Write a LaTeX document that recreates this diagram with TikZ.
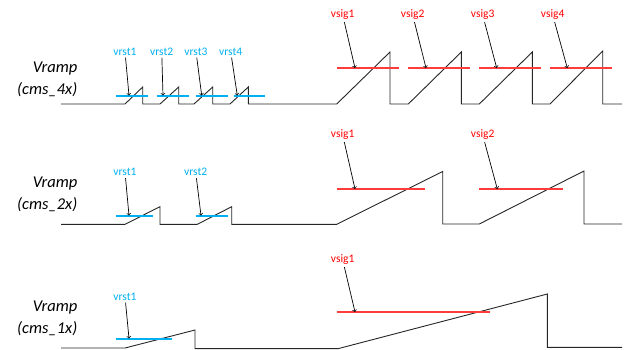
\documentclass[tikz,border=0pt]{standalone}
\usepackage{fontspec}
\setmainfont{Carlito}
\usetikzlibrary{positioning, arrows}
\definecolor{rstblue}{RGB}{0,176,240}
\definecolor{sigred}{RGB}{255,0,0}
\definecolor{siglight}{RGB}{255,60,60}
\tikzset{
  >=to,
  wave/.style={color=black!85, line width=0.9pt, line join=miter},
  rstline/.style={draw=rstblue, line width=1.2pt},
  sigline/.style={draw=siglight, line width=1.2pt},
  rstlabel/.style={text=rstblue, font=\fontsize{11.5}{13}\selectfont, inner sep=1pt},
  siglabel/.style={text=sigred, font=\fontsize{11.5}{13}\selectfont, inner sep=1pt},
  pointer/.style={->, color=black, line width=0.7pt, shorten <=1pt},
  rowlabel/.style={align=right, anchor=east, font=\fontsize{16.5}{22}\itshape, inner sep=0pt},
}

\begin{document}
\begin{tikzpicture}[x=1pt, y=-1pt]
        \useasboundingbox (0,0) rectangle (624,349);

        % row labels
        \node[rowlabel] (lbl4) at (77.5,79) {Vramp\\(cms\_4x)};
        \node[rowlabel] (lbl2) at (77.5,194) {Vramp\\(cms\_2x)};
        \node[rowlabel] (lbl1) at (77.5,318) {Vramp\\(cms\_1x)};

        % cms_4x waveform
        \draw[wave] (61,104) -- (125,104) -- (142.7,87) -- (142.7,104) -- (160,104)
              -- (178.7,87) -- (178.7,104) -- (194,104) -- (212.7,87) -- (212.7,104)
              -- (230,104) -- (248.3,87) -- (248.3,104) -- (336.7,104) -- (390,52)
              -- (390,104) -- (408.3,104) -- (461.3,52) -- (461.3,104) -- (479.3,104)
              -- (532.3,52) -- (532.3,104) -- (550,104) -- (602.7,51) -- (602.7,104)
              -- (622,104);

        % cms_4x levels
        \draw[rstline] (116,96) -- (147.7,96);
        \draw[rstline] (156.7,96) -- (189,96);
        \draw[rstline] (195.7,96) -- (227.7,96);
        \draw[rstline] (234.3,96) -- (265,96);
        \draw[sigline] (336.7,68) -- (399.3,68);
        \draw[sigline] (407.7,68) -- (470,68);
        \draw[sigline] (479,68) -- (540.7,68);
        \draw[sigline] (550,68) -- (611.7,68);

        % cms_4x labels
        \node[rstlabel] (r4a) at (125,51.7) {vrst1};
        \node[rstlabel] (r4b) at (161.7,51.7) {vrst2};
        \node[rstlabel] (r4c) at (196,51.7) {vrst3};
        \node[rstlabel] (r4d) at (230.7,51.7) {vrst4};
        \node[siglabel] (s4a) at (342.7,15) {vsig1};
        \node[siglabel] (s4b) at (412.7,15) {vsig2};
        \node[siglabel] (s4c) at (482.7,15) {vsig3};
        \node[siglabel] (s4d) at (552.7,15) {vsig4};

        \coordinate (r4ta) at (129,95.5);
        \coordinate (r4tb) at (163,95.5);
        \coordinate (r4tc) at (201.7,95.5);
        \coordinate (r4td) at (237.3,95.5);
        \coordinate (s4ta) at (355,68);
        \coordinate (s4tb) at (426,68);
        \coordinate (s4tc) at (496.7,68);
        \coordinate (s4td) at (567.3,68);

        \draw[pointer] (r4a) -- (r4ta);
        \draw[pointer] (r4b) -- (r4tb);
        \draw[pointer] (r4c) -- (r4tc);
        \draw[pointer] (r4d) -- (r4td);
        \draw[pointer] (s4a) -- (s4ta);
        \draw[pointer] (s4b) -- (s4tb);
        \draw[pointer] (s4c) -- (s4tc);
        \draw[pointer] (s4d) -- (s4td);

        % cms_2x waveform
        \draw[wave] (61,224.3) -- (125,224.3) -- (160,206.7) -- (160,224.3) -- (197.3,224.3)
              -- (231.7,206.7) -- (231.7,224.3) -- (336.7,224.3) -- (442.7,171.5)
              -- (442.7,224) -- (479.3,224) -- (584,171) -- (584,224) -- (622,224);

        % cms_2x levels
        \draw[rstline] (116,216) -- (153.3,216);
        \draw[rstline] (196,216) -- (227.7,216);
        \draw[sigline] (336.7,189) -- (425,189);
        \draw[sigline] (479,189) -- (563.3,189);

        % cms_2x labels
        \node[rstlabel] (r2a) at (125,172.3) {vrst1};
        \node[rstlabel] (r2b) at (195.7,172.3) {vrst2};
        \node[siglabel] (s2a) at (342.7,135) {vsig1};
        \node[siglabel] (s2b) at (482.7,135) {vsig2};

        \coordinate (r2ta) at (129,215.5);
        \coordinate (r2tb) at (201,215.5);
        \coordinate (s2ta) at (355,189);
        \coordinate (s2tb) at (497.3,189);

        \draw[pointer] (r2a) -- (r2ta);
        \draw[pointer] (r2b) -- (r2tb);
        \draw[pointer] (s2a) -- (s2ta);
        \draw[pointer] (s2b) -- (s2tb);

        % cms_1x waveform
        \draw[wave] (61,348) -- (125,348) -- (195,330) -- (195,348.6) -- (338.3,348.6)
              -- (547.3,294) -- (547.3,347.3) -- (622,347.3);

        % cms_1x levels
        \draw[rstline] (116,339) -- (171.7,339);
        \draw[sigline] (336.7,312) -- (490,312);

        % cms_1x labels
        \node[rstlabel] (r1a) at (125,296.7) {vrst1};
        \node[siglabel] (s1a) at (342.7,260) {vsig1};

        \coordinate (r1ta) at (129,338.5);
        \coordinate (s1ta) at (355,312);

        \draw[pointer] (r1a) -- (r1ta);
        \draw[pointer] (s1a) -- (s1ta);

\end{tikzpicture}
\end{document}
